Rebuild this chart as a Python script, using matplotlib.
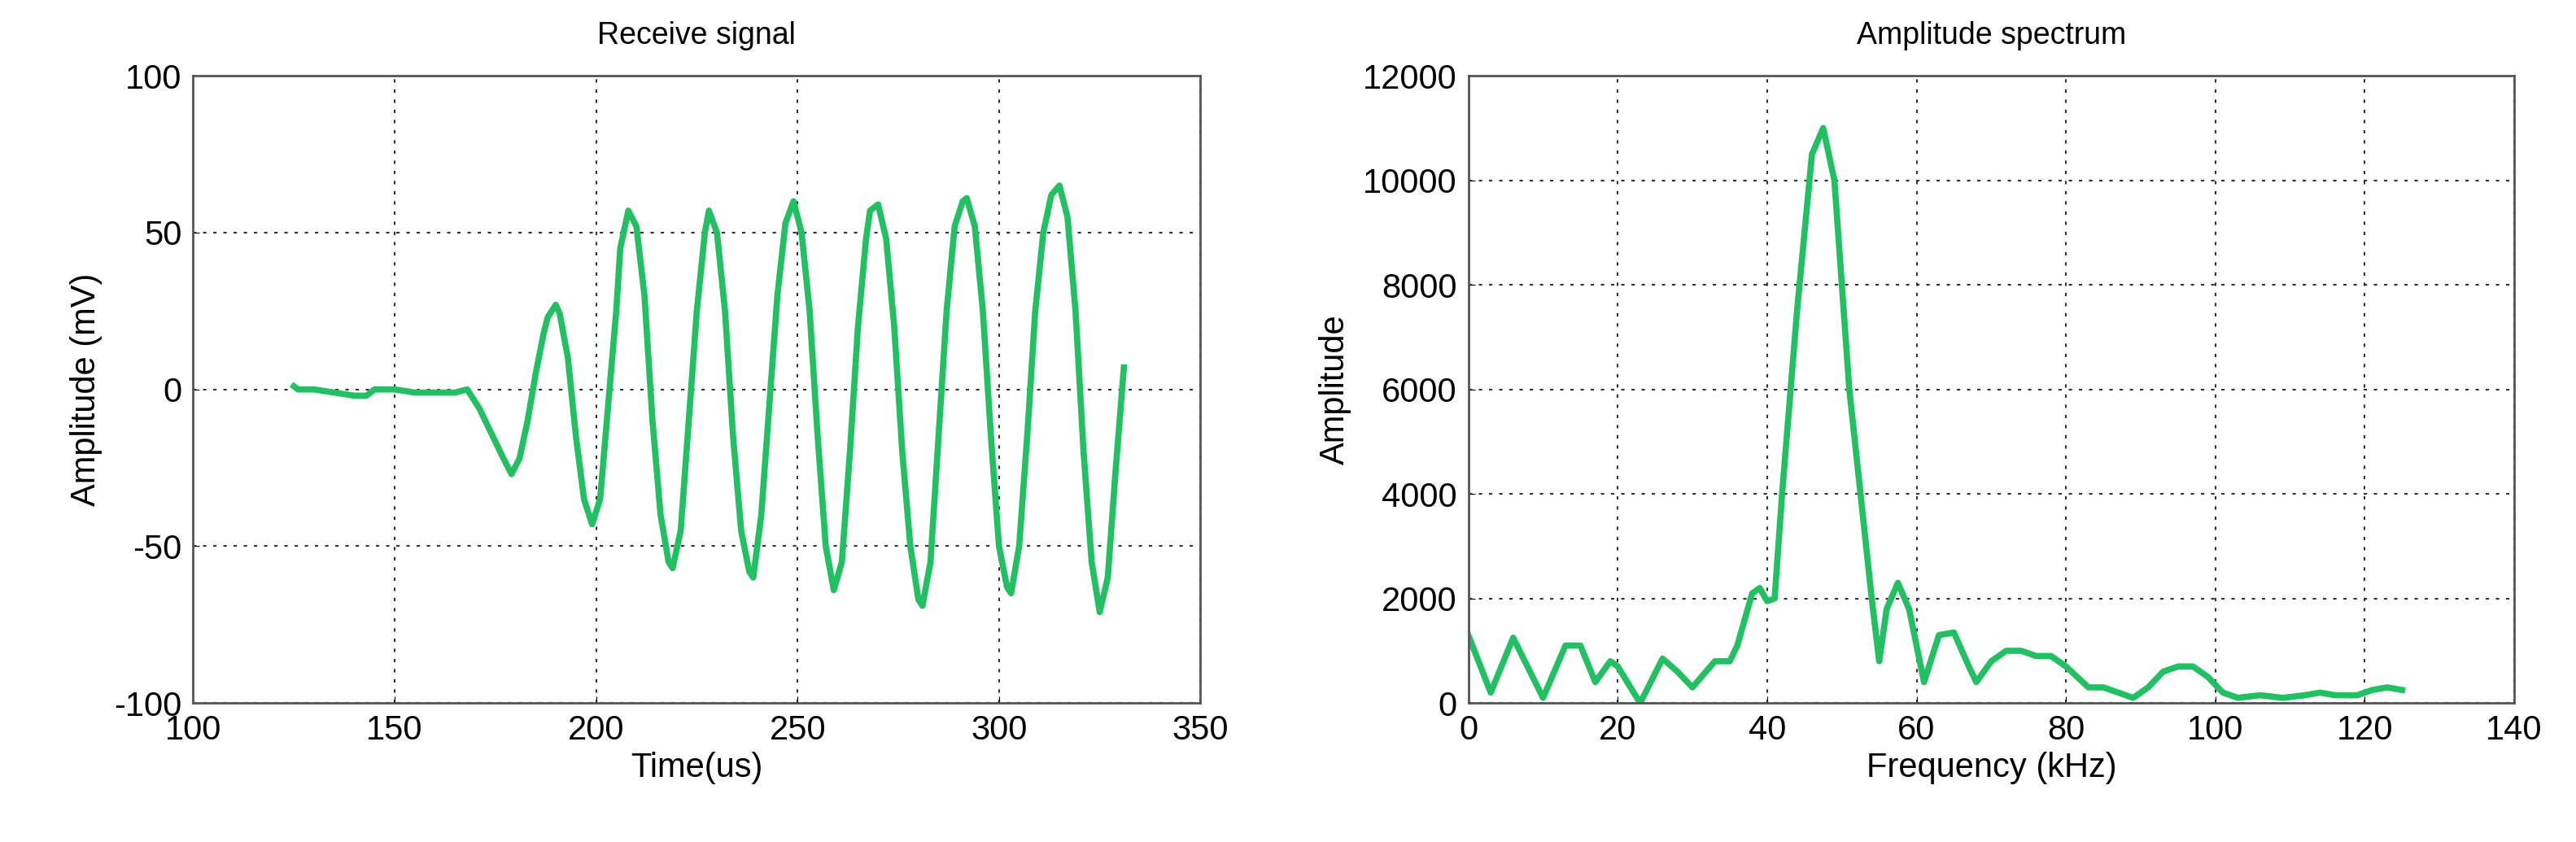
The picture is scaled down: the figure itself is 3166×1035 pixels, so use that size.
import numpy as np
import matplotlib.pyplot as plt

# receive signal (time in us, amplitude in mV)
sig_t = [125, 126, 130, 135, 140, 143, 145, 150, 155, 160, 165, 168,
         171, 174, 177, 179, 181, 183, 185, 187, 188, 190, 191, 193, 195, 197, 199,
         201, 203, 205, 206, 208, 210, 212, 214, 216, 218, 219,
         221, 223, 225, 227, 228, 230, 232, 234, 236, 238, 239,
         241, 243, 245, 247, 249, 251, 253, 255, 257, 259,
         261, 263, 265, 267, 268, 270, 272, 274, 276, 278, 280, 281,
         283, 285, 287, 289, 291, 292, 294, 296, 298, 300, 302, 303,
         305, 307, 309, 311, 313, 315, 317, 319, 321, 323, 325,
         327, 329, 331]
sig_v = [1, 0, 0, -1, -2, -2, 0, 0, -1, -1, -1, 0,
         -6, -14, -22, -27, -22, -10, 5, 18, 23, 27, 24, 10, -15, -35, -43,
         -35, -5, 25, 45, 57, 52, 30, -10, -40, -55, -57,
         -45, -10, 25, 50, 57, 50, 25, -15, -45, -58, -60,
         -40, -5, 30, 53, 60, 50, 25, -15, -50, -64,
         -55, -20, 20, 48, 57, 59, 48, 20, -20, -50, -67, -69,
         -55, -15, 25, 52, 60, 61, 52, 25, -15, -50, -63, -65,
         -50, -15, 25, 50, 62, 65, 55, 25, -20, -55, -71,
         -60, -25, 7]

# amplitude spectrum
spec_f = [0, 3, 6, 10, 13, 15, 17, 19, 20, 23, 26, 28, 30, 33, 35, 36, 38, 39, 40, 41,
          42, 44, 45, 46, 47.5, 49, 51, 54, 55, 56, 57.5, 59, 61, 63, 65, 67, 68, 70,
          72, 74, 76, 78, 80, 83, 85, 87, 89, 91, 93, 95, 97, 99, 101, 103, 106, 109,
          112, 114, 116, 119, 121, 123, 125]
spec_a = [1300, 200, 1250, 100, 1100, 1100, 400, 800, 700, 0, 850, 600, 300, 800, 800,
          1100, 2100, 2200, 1950, 2000, 4000, 7500, 9000, 10500, 11000, 10000, 6000,
          2000, 800, 1800, 2300, 1800, 400, 1300, 1350, 700, 400, 800, 1000, 1000, 900,
          900, 700, 300, 300, 200, 100, 300, 600, 700, 700, 500, 200, 100, 150, 100,
          150, 200, 150, 150, 250, 300, 250]

green = '#22c063'
plt.rcParams['font.family'] = 'Liberation Sans'
plt.rcParams['axes.unicode_minus'] = False

fig = plt.figure(figsize=(31.66, 10.35), dpi=100)
ax1 = fig.add_axes([0.075, 0.165, 0.391, 0.745])
ax2 = fig.add_axes([0.570, 0.165, 0.406, 0.745])

ax1.plot(sig_t, sig_v, color=green, lw=5.5)
ax1.set_xlim(100, 350)
ax1.set_ylim(-100, 100)
ax1.set_xticks(range(100, 351, 50))
ax1.set_yticks(range(-100, 101, 50))
ax1.set_title('Receive signal', fontsize=27, pad=28)
ax1.set_xlabel('Time(us)', fontsize=30, labelpad=4)
ax1.set_ylabel('Amplitude (mV)', fontsize=30, labelpad=10)

ax2.plot(spec_f, spec_a, color=green, lw=5.5)
ax2.set_xlim(0, 140)
ax2.set_ylim(0, 12000)
ax2.set_xticks(range(0, 141, 20))
ax2.set_yticks(range(0, 12001, 2000))
ax2.set_title('Amplitude spectrum', fontsize=27, pad=28)
ax2.set_xlabel('Frequency (kHz)', fontsize=30, labelpad=4)
ax2.set_ylabel('Amplitude', fontsize=30, labelpad=10)

for ax in (ax1, ax2):
    ax.grid(True, color='#333333', linestyle=(0, (2, 4)), lw=1.5)
    ax.tick_params(labelsize=30, direction='in', length=6, pad=10)
    for s in ax.spines.values():
        s.set_color('#555555')
        s.set_linewidth(2)

plt.savefig('out.png')
